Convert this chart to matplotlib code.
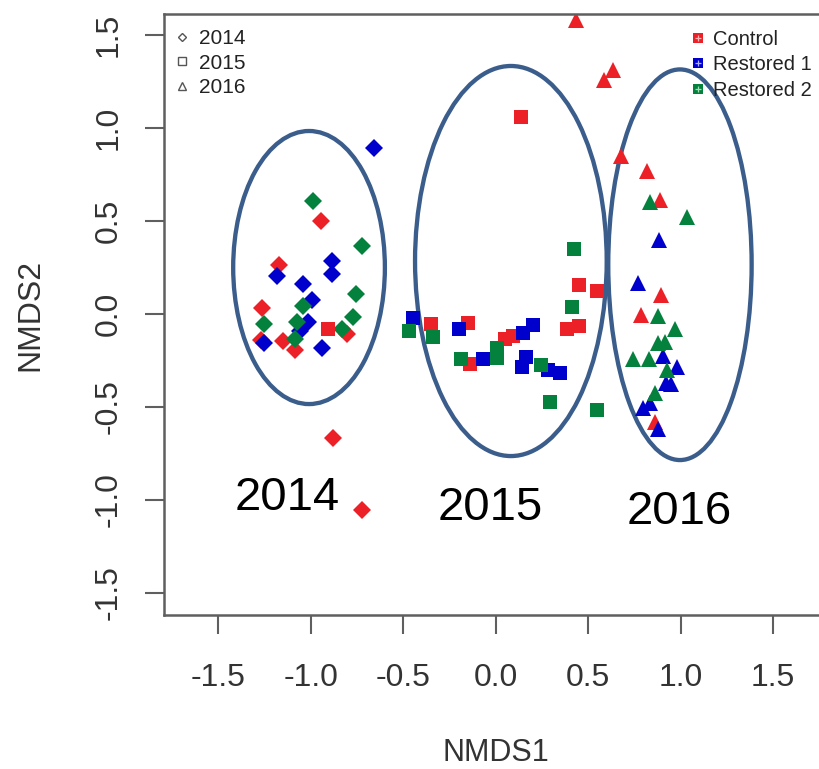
import numpy as np
import matplotlib
matplotlib.use("Agg")
import matplotlib.pyplot as plt
from matplotlib.patches import Ellipse
from matplotlib.lines import Line2D

plt.rcParams['font.family'] = ['Liberation Sans', 'DejaVu Sans']

treatments = ['Control', 'Restored 1', 'Restored 2']
years = ['2014', '2015', '2016']
colors = ['#ec2027', '#0000cd', '#05813e']
cross_colors = ['#ffb0b0', '#b0b0ff', '#a0e0b0']
year_markers = ['D', 's', '^']
marker_sizes = [9.3, 10.5, 11.5]

# NMDS scores (one x list and one y list per year / treatment)
x_2014_control = [-0.943, -1.173, -1.262, -0.805, -1.151, -1.270, -1.083, -0.878, -0.723]
y_2014_control = [0.500, 0.263, 0.030, -0.108, -0.145, -0.140, -0.194, -0.668, -1.054]
x_2014_rest1 = [-0.658, -0.886, -1.184, -0.886, -1.040, -0.995, -1.016, -1.058, -1.251, -0.941]
y_2014_rest1 = [0.894, 0.285, 0.204, 0.213, 0.161, 0.075, -0.045, -0.091, -0.158, -0.181]
x_2014_rest2 = [-0.986, -0.721, -0.755, -1.040, -0.770, -1.251, -1.076, -0.831, -1.083]
y_2014_rest2 = [0.609, 0.367, 0.108, 0.043, -0.014, -0.055, -0.045, -0.081, -0.134]

x_2015_control = [0.135, -0.908, -0.351, -0.148, -0.139, 0.050, 0.095, 0.450, 0.549, 0.383, 0.452]
y_2015_control = [1.057, -0.082, -0.055, -0.047, -0.271, -0.136, -0.118, 0.156, 0.124, -0.081, -0.065]
x_2015_rest1 = [-0.445, -0.197, -0.070, 0.149, 0.200, 0.164, 0.140, 0.284, 0.348]
y_2015_rest1 = [-0.023, -0.081, -0.244, -0.100, -0.059, -0.229, -0.283, -0.301, -0.316]
x_2015_rest2 = [-0.467, -0.341, -0.189, 0.009, 0.009, 0.245, 0.294, 0.546, 0.425, 0.410]
y_2015_rest2 = [-0.091, -0.122, -0.244, -0.184, -0.238, -0.274, -0.471, -0.516, 0.348, 0.039]

x_2016_control = [0.432, 0.632, 0.585, 0.676, 0.820, 0.888, 0.894, 0.784, 0.861]
y_2016_control = [1.580, 1.312, 1.258, 0.849, 0.771, 0.613, 0.102, -0.005, -0.579]
x_2016_rest1 = [0.883, 0.771, 0.903, 0.982, 0.921, 0.950, 0.834, 0.798, 0.876]
y_2016_rest1 = [0.400, 0.168, -0.226, -0.283, -0.369, -0.375, -0.480, -0.507, -0.620]
x_2016_rest2 = [0.834, 1.032, 0.879, 0.969, 0.879, 0.915, 0.744, 0.830, 0.928, 0.861]
y_2016_rest2 = [0.604, 0.523, -0.011, -0.082, -0.158, -0.149, -0.244, -0.244, -0.301, -0.427]

groups = [
    [(x_2014_control, y_2014_control), (x_2014_rest1, y_2014_rest1), (x_2014_rest2, y_2014_rest2)],
    [(x_2015_control, y_2015_control), (x_2015_rest1, y_2015_rest1), (x_2015_rest2, y_2015_rest2)],
    [(x_2016_control, y_2016_control), (x_2016_rest1, y_2016_rest1), (x_2016_rest2, y_2016_rest2)],
]

ticks = [-1.5, -1.0, -0.5, 0.0, 0.5, 1.0, 1.5]

# hand-drawn year ellipses and their labels (annotation layer)
ell_center = [(-1.009, 0.25), (0.082, 0.285), (0.996, 0.265)]
ell_size = [(0.82, 1.468), (1.036, 2.097), (0.775, 2.10)]
year_label_pos = [(-1.127, -1.054), (-0.032, -1.108), (0.993, -1.131)]

fig = plt.figure(figsize=(8.19, 7.69), dpi=100)
ax = fig.add_axes([164 / 819, 154 / 769, 663.4 / 819, 601 / 769])
ax.set_xlim(-1.793, 1.793)
ax.set_ylim(-1.618, 1.613)

for yi, yr in enumerate(groups):
    for ti, (xs, ys) in enumerate(yr):
        ax.plot(xs, ys, linestyle='none', marker=year_markers[yi],
                ms=marker_sizes[yi], mew=0, color=colors[ti])

for (cx, cy), (w, h) in zip(ell_center, ell_size):
    ax.add_patch(Ellipse((cx, cy), w, h, fill=False, edgecolor='#3a5d8c', lw=3.1))

for (tx, ty), yr in zip(year_label_pos, years):
    ax.text(tx, ty, yr, fontsize=34, ha='center', va='baseline', color='black')

for s in ax.spines.values():
    s.set_color('#5f5f5f')
    s.set_linewidth(1.8)

ax.set_xticks(ticks)
ax.set_yticks(ticks)
ax.set_xticklabels([f'{t:.1f}' for t in ticks])
ax.set_yticklabels([f'{t:.1f}' for t in ticks], rotation=90, va='center', ha='center')
ax.tick_params(axis='both', length=13.7, width=1.5, color='#5f5f5f',
               labelsize=23, labelcolor='#333333')
ax.tick_params(axis='x', pad=21)
ax.tick_params(axis='y', pad=26)

ax.set_xlabel('NMDS1', fontsize=22, color='#333333', labelpad=32)
ax.set_ylabel('NMDS2', fontsize=23, color='#333333', labelpad=35)

# year legend (hollow grey symbols)
year_handles = [Line2D([], [], linestyle='none', marker=m, ms=s * 0.5,
                       mfc='none', mec='#555555', mew=1.0)
                for m, s in zip(year_markers, [8, 10.5, 11.5])]
leg1 = ax.legend(year_handles, years, loc='upper left', frameon=False,
                 bbox_to_anchor=(171.6 / 819, 1 - 29 / 769),
                 bbox_transform=fig.transFigure, borderpad=0, borderaxespad=0,
                 fontsize=15, handlelength=1.0, handletextpad=0.3,
                 labelspacing=0.27, labelcolor='#222222')
ax.add_artist(leg1)

# treatment legend (filled squares with a light cross)
treat_handles = [(Line2D([], [], linestyle='none', marker='s', ms=7.5, mew=0, color=c),
                  Line2D([], [], linestyle='none', marker='+', ms=4.5, mew=0.9, color=cc))
                 for c, cc in zip(colors, cross_colors)]
ax.legend(treat_handles, treatments, loc='upper left', frameon=False,
          bbox_to_anchor=(688 / 819, 1 - 30 / 769),
          bbox_transform=fig.transFigure, borderpad=0, borderaxespad=0,
          fontsize=14.5, handlelength=1.0, handletextpad=0.25,
          labelspacing=0.32, labelcolor='#222222')

fig.savefig('out.png', dpi=100)
